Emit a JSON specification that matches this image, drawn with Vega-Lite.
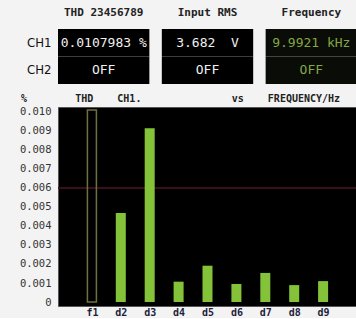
{
  "$schema": "https://vega.github.io/schema/vega-lite/v6.json",
  "background": "#f3f3f3",
  "padding": {"left": 18, "top": 6, "right": 0, "bottom": 0},
  "spacing": 9,
  "datasets": {
    "readout": [
      {"param": "THD 23456789", "ch": "CH1", "text": "0.0107983 %"},
      {"param": "THD 23456789", "ch": "CH2", "text": "OFF"},
      {"param": "Input RMS", "ch": "CH1", "text": "3.682\u00a0\u00a0V"},
      {"param": "Input RMS", "ch": "CH2", "text": "OFF"},
      {"param": "Frequency", "ch": "CH1", "text": "9.9921 kHz"},
      {"param": "Frequency", "ch": "CH2", "text": "OFF"}
    ],
    "harmonics": [
      {"h": 1, "name": "f1", "thd": 0.0101},
      {"h": 2, "name": "d2", "thd": 0.00468},
      {"h": 3, "name": "d3", "thd": 0.00914},
      {"h": 4, "name": "d4", "thd": 0.00107},
      {"h": 5, "name": "d5", "thd": 0.00191},
      {"h": 6, "name": "d6", "thd": 0.00095},
      {"h": 7, "name": "d7", "thd": 0.00153},
      {"h": 8, "name": "d8", "thd": 0.00089},
      {"h": 9, "name": "d9", "thd": 0.0011}
    ]
  },
  "vconcat": [
    {
      "width": 299,
      "height": 55,
      "view": {"stroke": null, "fill": null},
      "data": {"name": "readout"},
      "encoding": {
        "x": {
          "field": "param", "type": "nominal",
          "sort": ["THD 23456789", "Input RMS", "Frequency"],
          "scale": {"paddingInner": 0.12, "paddingOuter": 0},
          "axis": {
            "orient": "top", "title": null, "domain": false, "ticks": false,
            "labelAngle": 0, "labelPadding": 12,
            "labelFont": "DejaVu Sans Mono", "labelFontWeight": "bold",
            "labelFontSize": 11, "labelColor": "#222"
          }
        },
        "y": {
          "field": "ch", "type": "nominal",
          "sort": ["CH1", "CH2"],
          "scale": {"paddingInner": 0, "paddingOuter": 0},
          "axis": {
            "title": null, "domain": false, "ticks": false, "labelPadding": 7,
            "labelFont": "Liberation Sans Narrow, DejaVu Sans Condensed, DejaVu Sans",
            "labelFontSize": 13, "labelColor": "#111"
          }
        }
      },
      "layer": [
        {
          "mark": {"type": "rect"},
          "encoding": {
            "color": {
              "condition": {"test": "datum.param === 'Frequency'", "value": "#0a0d07"},
              "value": "#000000"
            }
          }
        },
        {
          "mark": {"type": "text", "font": "DejaVu Sans Mono", "fontSize": 13},
          "encoding": {
            "text": {"field": "text"},
            "color": {
              "condition": {"test": "datum.param === 'Frequency'", "value": "#86a646"},
              "value": "#f0f0f0"
            }
          }
        }
      ]
    },
    {
      "width": 299,
      "height": 199,
      "view": {"fill": "#000000", "stroke": "#555555"},
      "title": {
        "text": "%\u00a0\u00a0\u00a0\u00a0\u00a0\u00a0\u00a0\u00a0THD\u00a0\u00a0\u00a0\u00a0CH1.\u00a0\u00a0\u00a0\u00a0\u00a0\u00a0\u00a0\u00a0\u00a0\u00a0\u00a0\u00a0\u00a0\u00a0\u00a0vs\u00a0\u00a0\u00a0\u00a0FREQUENCY/Hz",
        "anchor": "start", "frame": "group", "dx": -37, "offset": 3,
        "font": "DejaVu Sans Mono", "fontSize": 10, "fontWeight": "bold", "color": "#222"
      },
      "data": {"name": "harmonics"},
      "encoding": {
        "x": {
          "field": "h", "type": "quantitative",
          "scale": {"domain": [0, 10], "nice": false, "zero": false},
          "axis": {
            "title": null, "values": [1, 2, 3, 4, 5, 6, 7, 8, 9],
            "labelExpr": "datum.value === 1 ? 'f1' : 'd' + datum.value",
            "grid": false, "domain": false, "ticks": false, "labelPadding": 1,
            "labelFont": "DejaVu Sans Mono", "labelFontWeight": "bold",
            "labelFontSize": 10, "labelColor": "#1e1e3c"
          }
        },
        "y": {
          "field": "thd", "type": "quantitative",
          "scale": {"domain": [-0.00021, 0.01026], "nice": false, "zero": false},
          "axis": {
            "title": null,
            "values": [0, 0.001, 0.002, 0.003, 0.004, 0.005, 0.006, 0.007, 0.008, 0.009, 0.01],
            "labelExpr": "datum.value === 0 ? '0' : format(datum.value, '.3f')",
            "grid": false, "domain": false, "ticks": false, "labelPadding": 7,
            "labelFont": "DejaVu Sans Mono", "labelFontSize": 10.5, "labelColor": "#333"
          }
        }
      },
      "layer": [
        {
          "mark": {"type": "rule", "color": "#3c0f1e", "strokeWidth": 2, "opacity": 0.8},
          "encoding": {"y": {"datum": 0.006}, "x": null}
        },
        {
          "transform": [{"filter": "datum.h > 1"}],
          "mark": {"type": "bar", "width": 10, "color": "#84c23a", "clip": true}
        },
        {
          "transform": [{"filter": "datum.h === 1"}],
          "mark": {"type": "bar", "width": 9, "fill": null, "fillOpacity": 0, "stroke": "#6e7040", "strokeWidth": 1.5, "clip": true}
        }
      ]
    }
  ]
}
